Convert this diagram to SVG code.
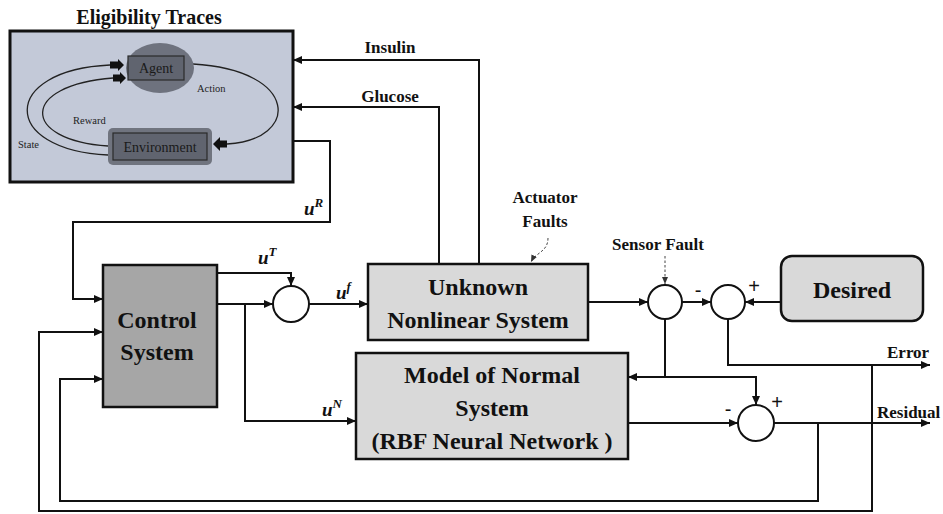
<svg xmlns="http://www.w3.org/2000/svg" width="943" height="514" viewBox="0 0 943 514">
<style>
.ln{fill:none;stroke:#111;stroke-width:2}
.box{stroke:#111;stroke-width:2.5}
.big{font-family:"Liberation Serif",serif;font-weight:bold;font-size:24px;fill:#111;text-anchor:middle}
.lbl{font-family:"Liberation Serif",serif;font-weight:bold;font-size:17px;fill:#111}
.sm{font-family:"Liberation Serif",serif;font-size:10.5px;fill:#222}
.u{font-family:"Liberation Serif",serif;font-weight:bold;font-style:italic;font-size:19px;fill:#111}
.sup{font-size:13px}
.sign{font-family:"Liberation Sans",sans-serif;font-size:20px;fill:#111;text-anchor:middle}
.sum{fill:#fff;stroke:#111;stroke-width:2}
</style>
<defs>
<marker id="ah" markerUnits="userSpaceOnUse" markerWidth="9" markerHeight="8" refX="9" refY="4" orient="auto">
<path d="M0,0 L9,4 L0,8 z" fill="#111"/>
</marker>
<marker id="ahs" markerUnits="userSpaceOnUse" markerWidth="7" markerHeight="6" refX="7" refY="3" orient="auto">
<path d="M0,0 L7,3 L0,6 z" fill="#333"/>
</marker>
</defs>
<rect width="943" height="514" fill="#fff"/>

<g id="eligibility">
<text x="149" y="24" class="lbl" style="font-size:20px" text-anchor="middle">Eligibility Traces</text>
<rect x="10" y="31" width="283" height="151" fill="#c3c9d8" stroke="#111" stroke-width="3"/>
<path d="M193,64 C300,70 300,140 227,144" fill="none" stroke="#222" stroke-width="1.3"/>
<path d="M108,155 C0,150 0,70 110,65" fill="none" stroke="#222" stroke-width="1.3"/>
<path d="M108,146 C20,140 20,85 113,78" fill="none" stroke="#222" stroke-width="1.3"/>
<ellipse cx="160" cy="68" rx="34" ry="25" fill="#6e727e"/>
<rect x="128" y="56" width="56" height="24" fill="#60646f" stroke="#2a2a2a" stroke-width="1.2"/>
<text x="156" y="73" class="sm" style="font-size:14px;fill:#1a1a1a" text-anchor="middle">Agent</text>
<rect x="108" y="128" width="104" height="37" rx="5" fill="#70747f"/>
<rect x="113" y="133" width="94" height="27" fill="#60646f" stroke="#2a2a2a" stroke-width="1.2"/>
<text x="160" y="152" class="sm" style="font-size:14px;fill:#1a1a1a" text-anchor="middle">Environment</text>
<polygon points="110,61.5 118,61.5 118,59 124,65 118,71 118,68.5 110,68.5" fill="#111"/>
<polygon points="113,74.5 120,74.5 120,72 126,78 120,84 120,81.5 113,81.5" fill="#111"/>
<polygon points="227,140.5 220,140.5 220,137 213,144 220,151 220,147.5 227,147.5" fill="#111"/>
<text x="197" y="92" class="sm">Action</text>
<text x="73" y="124" class="sm">Reward</text>
<text x="18" y="148" class="sm">State</text>
</g>

<g id="control">
<rect x="103" y="265" width="114" height="142" fill="#a6a6a6" class="box"/>
<text x="157" y="328" class="big">Control</text>
<text x="157" y="360" class="big">System</text>
</g>

<g id="unknown">
<rect x="368" y="264" width="220" height="76" fill="#d9d9d9" class="box"/>
<text x="478" y="295" class="big">Unknown</text>
<text x="478" y="328" class="big">Nonlinear System</text>
</g>

<g id="model">
<rect x="356" y="353" width="272" height="106" fill="#d9d9d9" class="box"/>
<text x="492" y="383" class="big">Model of Normal</text>
<text x="492" y="416" class="big">System</text>
<text x="492" y="449" class="big">(RBF Neural Network )</text>
</g>

<g id="desired">
<rect x="781" y="256" width="142" height="65" rx="11" fill="#d9d9d9" class="box"/>
<text x="852" y="298" class="big">Desired</text>
</g>

<g id="sum1"><circle cx="291" cy="304" r="18" class="sum"/></g>
<g id="sum2"><circle cx="665" cy="302" r="17" class="sum"/></g>
<g id="sum3"><circle cx="728" cy="302" r="17" class="sum"/></g>
<g id="sum4"><circle cx="756" cy="423" r="18" class="sum"/></g>

<g id="connectors">
<path class="ln" d="M479,263 V60 H293" marker-end="url(#ah)"/>
<path class="ln" d="M439,263 V107 H293" marker-end="url(#ah)"/>
<path class="ln" d="M293,141 H330 V222 H73 V299 H103" marker-end="url(#ah)"/>
<path class="ln" d="M217,273 H291 V286" marker-end="url(#ah)"/>
<path class="ln" d="M217,304 H273" marker-end="url(#ah)"/>
<path class="ln" d="M245,304 V421 H356" marker-end="url(#ah)"/>
<path class="ln" d="M309,304 H368" marker-end="url(#ah)"/>
<path class="ln" d="M588,302 H648" marker-end="url(#ah)"/>
<path class="ln" d="M682,302 H711" marker-end="url(#ah)"/>
<path class="ln" d="M781,302 H745" marker-end="url(#ah)"/>
<path class="ln" d="M728,319 V365 H930" marker-end="url(#ah)"/>
<path class="ln" d="M665,319 V377 H628" marker-end="url(#ah)"/>
<path class="ln" d="M665,377 H756 V405" marker-end="url(#ah)"/>
<path class="ln" d="M628,423 H738" marker-end="url(#ah)"/>
<path class="ln" d="M774,423 H930" marker-end="url(#ah)"/>
<path class="ln" d="M818,423 V501 H60 V379 H103" marker-end="url(#ah)"/>
<path class="ln" d="M872,365 V511 H39 V332 H103" marker-end="url(#ah)"/>
<path d="M548,238 C548,252 536,252 531,262" fill="none" stroke="#444" stroke-width="1" stroke-dasharray="2.5,2" marker-end="url(#ahs)"/>
<path d="M665,256 V284" fill="none" stroke="#444" stroke-width="1" stroke-dasharray="2.5,2" marker-end="url(#ahs)"/>
</g>

<g id="labels">
<text x="390" y="53" class="lbl" text-anchor="middle">Insulin</text>
<text x="390" y="102" class="lbl" text-anchor="middle">Glucose</text>
<text x="304" y="215" class="u">u<tspan class="sup" dy="-8">R</tspan></text>
<text x="258" y="264" class="u">u<tspan class="sup" dy="-8">T</tspan></text>
<text x="336" y="299" class="u">u<tspan class="sup" dy="-8">f</tspan></text>
<text x="322" y="416" class="u">u<tspan class="sup" dy="-8">N</tspan></text>
<text x="545" y="203" class="lbl" text-anchor="middle">Actuator</text>
<text x="545" y="227" class="lbl" text-anchor="middle">Faults</text>
<text x="658" y="250" class="lbl" text-anchor="middle">Sensor Fault</text>
<text x="887" y="358" class="lbl">Error</text>
<text x="877" y="418" class="lbl">Residual</text>
<text x="698" y="297" class="sign">-</text>
<text x="754" y="293" class="sign">+</text>
<text x="728" y="416" class="sign">-</text>
<text x="777" y="409" class="sign">+</text>
</g>
</svg>
